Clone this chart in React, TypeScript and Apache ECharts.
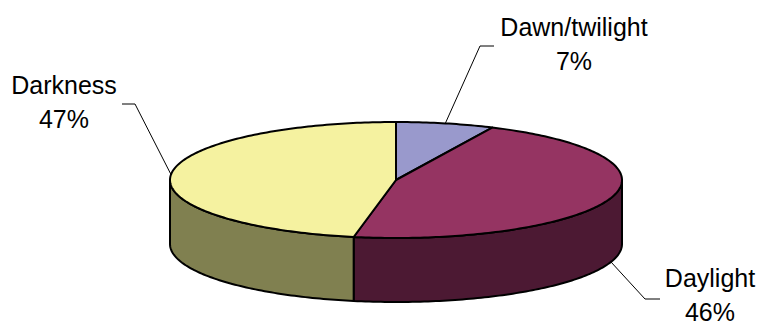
import { useEffect, useRef } from "react";
import * as echarts from "echarts";

// Data
const categories = ["Dawn/twilight", "Daylight", "Darkness"];
const shares = [7, 46, 47];

// Styles
const topColors = ["#9999CC", "#953462", "#F5F2A0"];
const sideColors = ["#5E5E80", "#4C1933", "#808050"];

// Layout (pixels)
const CX = 396;
const CY = 180;
const RX = 226;
const RY = 58;
const DEPTH = 64;
const FONT = '25px "Liberation Sans", Arial, sans-serif';
// label center x, first-line middle y; leader elbow & end
const labelLayout = [
  { x: 574, y: 27, elbow: [480, 46], end: [494, 46] },
  { x: 710, y: 278, elbow: [645, 299], end: [660, 299] },
  { x: 64, y: 85, elbow: [135, 104], end: [122, 104] },
];
const LINE_GAP = 34;

export default function App() {
  const ref = useRef<HTMLDivElement>(null);
  useEffect(() => {
    if (!ref.current) return;
    const chart = echarts.init(ref.current, null, { renderer: "svg" });
    const total = shares.reduce((a, b) => a + b, 0);
    const cum: number[] = [];
    let acc = 0;
    shares.forEach((v) => {
      cum.push(acc);
      acc += v;
    });
    const pt = (t: number, dy = 0) => [CX + RX * Math.sin(t), CY - RY * Math.cos(t) + dy];
    const arc = (a: number, b: number, dy = 0) => {
      const pts: number[][] = [];
      const n = Math.max(2, Math.ceil(((b - a) * 180) / Math.PI));
      for (let k = 0; k <= n; k++) pts.push(pt(a + ((b - a) * k) / n, dy));
      return pts;
    };

    chart.setOption({
      animation: false,
      series: [
        {
          type: "custom",
          coordinateSystem: "none",
          data: shares.map((v, i) => ({ name: categories[i], value: v })),
          renderItem: (params: any, api: any) => {
            const i = params.dataIndex;
            const v = api.value(0);
            const a = (cum[i] / total) * Math.PI * 2;
            const b = a + (v / total) * Math.PI * 2;
            const children: any[] = [];
            const sa = Math.max(a, Math.PI / 2);
            const sb = Math.min(b, (Math.PI * 3) / 2);
            if (sb > sa) {
              const topArc = arc(sa, sb);
              const botArc = arc(sa, sb, DEPTH).reverse();
              children.push({
                type: "polygon",
                shape: { points: [...topArc, ...botArc] },
                style: { fill: sideColors[i], stroke: "#000", lineWidth: 2, lineJoin: "round" },
              });
            }
            children.push({
              type: "polygon",
              shape: { points: [[CX, CY], ...arc(a, b)] },
              style: { fill: topColors[i], stroke: "#000", lineWidth: 2, lineJoin: "round" },
            });
            const mid = (a + b) / 2;
            const front = Math.cos(mid) < 0;
            const start = pt(mid, front ? DEPTH : 0);
            const L = labelLayout[i];
            children.push({
              type: "polyline",
              shape: { points: [start, L.elbow, L.end] },
              style: { stroke: "#000", lineWidth: 1, fill: null },
            });
            children.push({
              type: "text",
              style: {
                text: categories[i],
                x: L.x,
                y: L.y,
                font: FONT,
                fill: "#000",
                align: "center",
                verticalAlign: "middle",
              },
            });
            children.push({
              type: "text",
              style: {
                text: Math.round((v / total) * 100) + "%",
                x: L.x,
                y: L.y + LINE_GAP,
                font: FONT,
                fill: "#000",
                align: "center",
                verticalAlign: "middle",
              },
            });
            return { type: "group", children };
          },
        },
      ],
    });
    return () => chart.dispose();
  }, []);
  return (
    <div
      ref={ref}
      style={{ position: "fixed", left: 0, top: 0, width: 761, height: 322, background: "#fff" }}
    />
  );
}
